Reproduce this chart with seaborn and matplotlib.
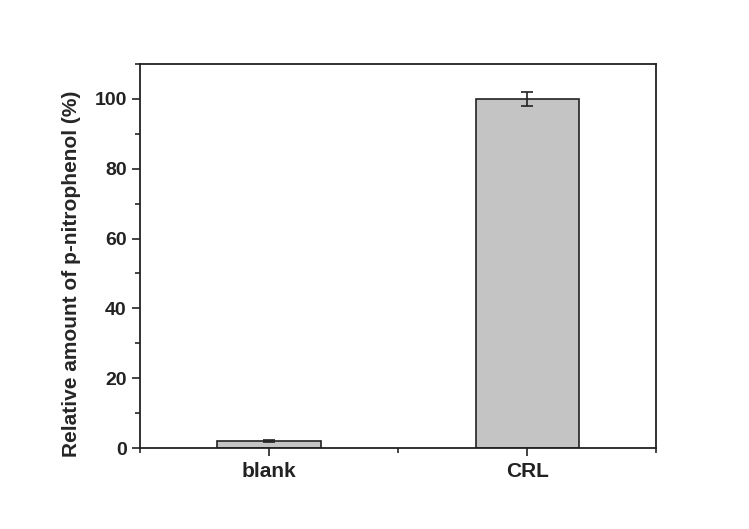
import pandas as pd
import matplotlib
matplotlib.use("Agg")
import matplotlib.pyplot as plt
import seaborn as sns
from matplotlib.ticker import MultipleLocator

samples = ["blank", "CRL"]
amount = [2.0, 100.0]
amount_err = [0.2, 2.0]

df = pd.DataFrame({"Sample": samples, "Amount": amount})

sns.set_style("ticks")
plt.rcParams["font.family"] = ["Liberation Sans", "DejaVu Sans"]
plt.rcParams["font.weight"] = "bold"

fig = plt.figure(figsize=(7.49, 5.29), dpi=100)
ax = fig.add_axes([0.187, 0.153, 0.689, 0.726])

sns.barplot(
    x="Sample",
    y="Amount",
    data=df,
    color="#c4c4c4",
    edgecolor="#222222",
    linewidth=1.2,
    width=0.4,
    errorbar=None,
    saturation=1,
    ax=ax
)
ax.errorbar(
    x=range(len(samples)),
    y=amount,
    yerr=amount_err,
    fmt="none",
    ecolor="#222222",
    elinewidth=1.2,
    capsize=4,
    capthick=1.2
)

ax.set_xlim(-0.5, 1.5)
ax.set_ylim(0, 110)
ax.yaxis.set_major_locator(MultipleLocator(20))
ax.yaxis.set_minor_locator(MultipleLocator(10))
ax.xaxis.set_minor_locator(MultipleLocator(0.5))

for side in ["top", "right", "left", "bottom"]:
    ax.spines[side].set_visible(True)
    ax.spines[side].set_linewidth(1.3)
    ax.spines[side].set_color("#222222")

ax.tick_params(axis="both", which="major", direction="out", length=6, width=1.2,
               labelsize=14, colors="#222222")
ax.tick_params(axis="x", which="major", labelsize=15, pad=4)
ax.tick_params(axis="both", which="minor", direction="out", length=3.5, width=1.2)

ax.set_xlabel("")
ax.set_ylabel("Relative amount of p-nitrophenol (%)", fontsize=15, fontweight="bold")
ax.yaxis.set_label_coords(-0.115, 0.455)
for lbl in ax.get_xticklabels() + ax.get_yticklabels():
    lbl.set_fontweight("bold")

fig.savefig("out.png", dpi=100)
